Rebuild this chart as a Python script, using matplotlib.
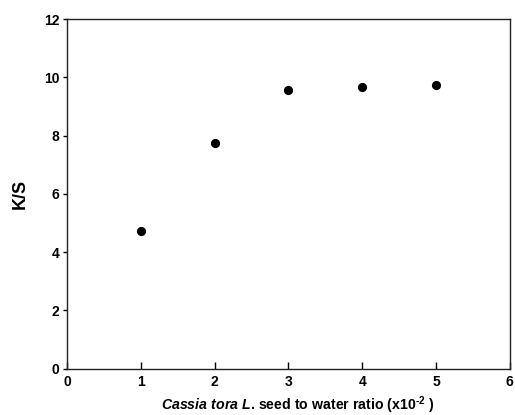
import numpy as np
import matplotlib
matplotlib.use('Agg')
import matplotlib.pyplot as plt

ratio = [1, 2, 3, 4, 5]
ks = [4.72, 7.75, 9.55, 9.67, 9.72]
xticks = [0, 1, 2, 3, 4, 5, 6]
yticks = [0, 2, 4, 6, 8, 10, 12]

plt.rcParams['font.family'] = ['Liberation Sans', 'DejaVu Sans']
plt.rcParams['mathtext.fontset'] = 'custom'
plt.rcParams['mathtext.rm'] = 'Liberation Sans:bold'
plt.rcParams['mathtext.it'] = 'Liberation Sans:italic:bold'
plt.rcParams['mathtext.bf'] = 'Liberation Sans:bold'

fig = plt.figure(figsize=(5.15, 4.15), dpi=100)
ax = fig.add_axes([0.130, 0.112, 0.860, 0.842])

ax.plot(ratio, ks, 'o', color='black', markersize=5.6, linestyle='none')

ax.set_xlim(0, 6)
ax.set_ylim(0, 12)
ax.set_xticks(xticks)
ax.set_yticks(yticks)
ax.tick_params(axis='x', direction='in', length=5, width=1, labelsize=10, pad=5)
ax.tick_params(axis='y', direction='out', length=3, width=1, labelsize=10, pad=2.5)
for lbl in ax.get_xticklabels() + ax.get_yticklabels():
    lbl.set_fontweight('bold')
for s in ax.spines.values():
    s.set_linewidth(1.0)
    s.set_color('#222222')

ax.set_ylabel('K/S', fontsize=13, fontweight='bold', labelpad=11)
ax.set_xlabel(r'$\it{Cassia\ tora\ L}$. seed to water ratio (x10$^{\text{-2}}$ )',
              fontsize=10.2, fontweight='bold')
ax.xaxis.set_label_coords(0.52, -0.075)

fig.savefig('out.png', dpi=100)
